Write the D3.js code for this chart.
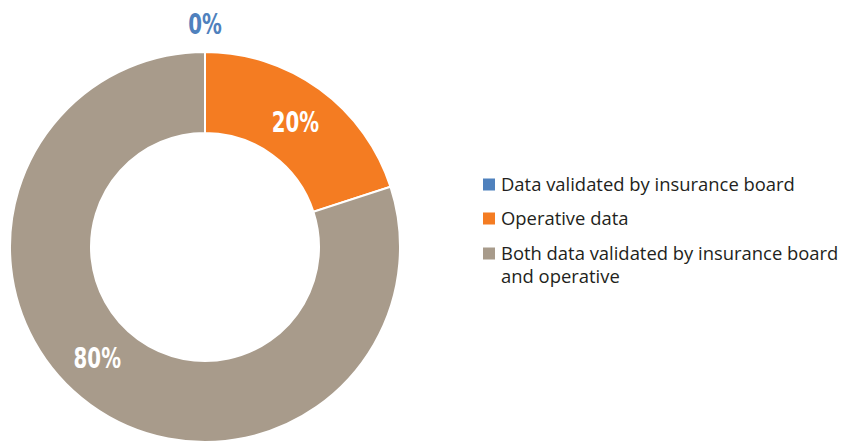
<!DOCTYPE html>
<html><head><meta charset="utf-8">
<script src="https://cdn.jsdelivr.net/npm/d3@7"></script>
<style>
html,body{margin:0;padding:0;background:#fff;}
svg{display:block;}
</style></head>
<body><svg id="c" width="841" height="443"></svg>
<script>
const categories = ["Data validated by insurance board", "Operative data", "Both data validated by insurance board|and operative"];
const values = [0, 20, 80];
const labels = ["0%", "20%", "80%"];
const colors = ["#4f81bd", "#f47c22", "#a89b8b"];

const svg = d3.select("#c");
const cx = 205, cy = 247, rOuter = 195, rInner = 114;
const g = svg.append("g").attr("transform", `translate(${cx},${cy})`);

const pie = d3.pie().sort(null).value(d => d)(values);
const arc = d3.arc().innerRadius(rInner).outerRadius(rOuter);

g.selectAll("path").data(pie).join("path")
  .attr("d", arc)
  .attr("fill", (d, i) => colors[i])
  .attr("stroke", "#fff")
  .attr("stroke-width", 2);

// labels (condensed bold via horizontal scaling)
const angleShift = [0, 0, 0.14];
const labelR = [rOuter + 28, 154, 155];
pie.forEach((d, i) => {
  const a = (d.startAngle + d.endAngle) / 2 + angleShift[i];
  const x = labelR[i] * Math.sin(a), y = -labelR[i] * Math.cos(a);
  g.append("text")
    .attr("transform", `translate(${x},${y}) scale(0.72,1)`)
    .attr("dy", "0.36em")
    .attr("text-anchor", "middle")
    .attr("font-family", "'DejaVu Sans',sans-serif")
    .attr("font-weight", "bold")
    .attr("font-size", 27.5)
    .attr("fill", i === 0 ? colors[0] : "#fff")
    .text(labels[i]);
});

// legend
const legY = [191, 225, 260];
const lg = svg.append("g");
const fam = "'Open Sans', Roboto, sans-serif";
let fs = 17;
const probe = lg.append("text").attr("font-family", fam).attr("font-size", fs).text(categories[0]);
const w = probe.node().getComputedTextLength();
probe.remove();
if (w > 0) fs = fs * 294 / w;
categories.forEach((c, i) => {
  lg.append("rect").attr("x", 483).attr("y", legY[i] - 12.5).attr("width", 12).attr("height", 12).attr("fill", colors[i]);
  const t = lg.append("text").attr("x", 501).attr("y", legY[i])
    .attr("font-family", fam).attr("font-size", fs).attr("fill", "#231f20");
  c.split("|").forEach((line, j) => {
    t.append("tspan").attr("x", 501).attr("dy", j === 0 ? 0 : 23).text(line);
  });
});
</script></body></html>
